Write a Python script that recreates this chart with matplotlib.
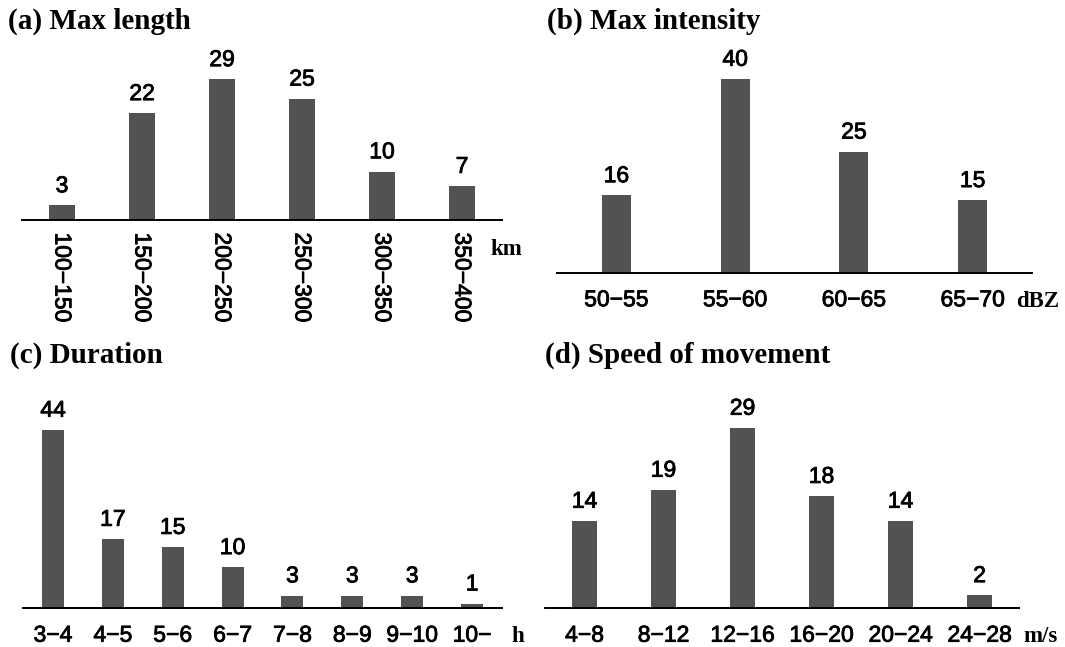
import matplotlib
matplotlib.use("Agg")
import matplotlib.pyplot as plt
import matplotlib.patheffects as pe

# data
length_cats = ["100−150", "150−200", "200−250", "250−300", "300−350", "350−400"]
length_vals = [3, 22, 29, 25, 10, 7]

intensity_cats = ["50−55", "55−60", "60−65", "65−70"]
intensity_vals = [16, 40, 25, 15]

duration_cats = ["3−4", "4−5", "5−6", "6−7", "7−8", "8−9", "9−10", "10−"]
duration_vals = [44, 17, 15, 10, 3, 3, 3, 1]

speed_cats = ["4−8", "8−12", "12−16", "16−20", "20−24", "24−28"]
speed_vals = [14, 19, 29, 18, 14, 2]

W, H = 1065, 647
BAR = "#525252"
SANS = "Liberation Sans"
SERIF = "Liberation Serif"
FS = 16.5
# slightly heavier strokes, the source text looks between regular and bold
THICK = [pe.withStroke(linewidth=0.6, foreground="black")]

fig = plt.figure(figsize=(W / 100, H / 100), dpi=100)


def px_axes(left, right, bottom, top):
    # pixel coords measured from top-left
    return fig.add_axes([left / W, (H - bottom) / H, (right - left) / W, (bottom - top) / H])


def panel(ax, cats, vals, width, ytop, rot=0, pad=9):
    x = range(len(cats))
    ax.bar(x, vals, width=width, color=BAR)
    ax.set_xlim(-0.5, len(cats) - 0.5)
    ax.set_ylim(0, ytop)
    for s in ["top", "left", "right"]:
        ax.spines[s].set_visible(False)
    ax.spines["bottom"].set_linewidth(1.4)
    ax.set_yticks([])
    ax.set_xticks(list(x))
    ax.set_xticklabels(cats, rotation=rot, fontsize=FS, family=SANS, path_effects=THICK)
    ax.tick_params(axis="x", length=0, pad=pad)
    for xi, v in zip(x, vals):
        ax.annotate(str(v), (xi, v), xytext=(0, 9.5), textcoords="offset points",
                    ha="center", va="baseline", fontsize=FS, family=SANS,
                    path_effects=THICK)


ax_a = px_axes(22, 502, 220, 50)
panel(ax_a, length_cats, length_vals, 0.325, 170 / 4.85, rot=270, pad=9)

ax_b = px_axes(557, 1032, 273, 50)
panel(ax_b, intensity_cats, intensity_vals, 0.245, 223 / 4.85, pad=11)

ax_c = px_axes(23, 502, 607.7, 400)
panel(ax_c, duration_cats, duration_vals, 0.367, 207.7 / 4.04, pad=11.5)

ax_d = px_axes(545, 1019, 607.7, 400)
panel(ax_d, speed_cats, speed_vals, 0.32, 207.7 / 6.2, pad=11.5)

# titles
tkw = dict(fontsize=21, fontweight="bold", family=SERIF, va="baseline", ha="left")
fig.text(8 / W, 1 - 29 / H, "(a) Max length", **tkw)
fig.text(547 / W, 1 - 29 / H, "(b) Max intensity", **tkw)
fig.text(10 / W, 1 - 363 / H, "(c) Duration", **tkw)
fig.text(545 / W, 1 - 363 / H, "(d) Speed of movement", **tkw)

# units
ukw = dict(fontsize=16.5, fontweight="bold", family=SERIF, va="baseline", ha="left")
fig.text(490 / W, 1 - 255 / H, "km", **ukw)
fig.text(1016 / W, 1 - 307 / H, "dBZ", **ukw)
fig.text(511 / W, 1 - 642 / H, "h", **ukw)
fig.text(1023 / W, 1 - 642 / H, "m/s", **ukw)

fig.savefig("out.png", dpi=100)
